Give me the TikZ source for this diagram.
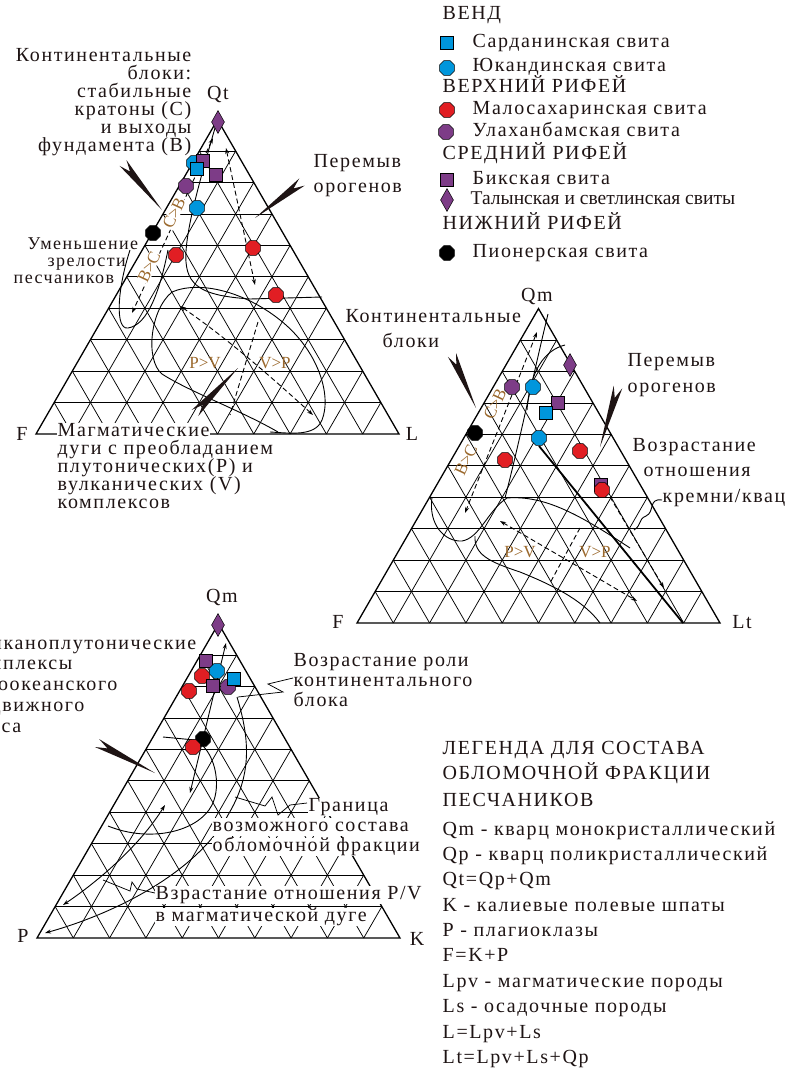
\documentclass[tikz,border=0pt]{standalone}
\usepackage{fontspec}
\setmainfont{Liberation Serif}
\newfontfamily\wide{Liberation Serif}[LetterSpace=8]
\usetikzlibrary{arrows.meta,calc,shapes.geometric}

\definecolor{mblue}{RGB}{0,150,220}
\definecolor{mpurple}{RGB}{125,60,135}
\definecolor{mred}{RGB}{225,30,35}
\definecolor{ink}{RGB}{30,20,20}
\definecolor{ochre}{RGB}{155,105,45}

% ternary grid, 10 divisions; #1,#2 = left corner
\newcommand{\ternary}[2]{%
  \begin{scope}[shift={(#1,#2)}]
    \foreach \i in {1,...,9}{
      \draw[gridline] (\i*18.15,-\i*31.44) -- (363-\i*18.15,-\i*31.44);
      \draw[gridline] (\i*36.3,0) -- (181.5+\i*18.15,-314.4+\i*31.44);
      \draw[gridline] (\i*36.3,0) -- (\i*18.15,-\i*31.44);
    }
    \draw[triline] (0,0) -- (363,0) -- (181.5,-314.4) -- cycle;
  \end{scope}}

% black wedge pointer from tail #1 to tip #2
\newcommand{\pointer}[2]{%
  \fill[ink] (#2) -- ($(#1)!4.5pt!90:(#2)$) -- ($(#1)!0.18!(#2)$) -- ($(#1)!4.5pt!-90:(#2)$) -- cycle;}

\begin{document}
\begin{tikzpicture}[x=1pt,y=-1pt,
  gridline/.style={line width=0.75pt},
  triline/.style={line width=1.3pt},
  bound/.style={line width=0.9pt},
  flow/.style={line width=0.9pt,dash pattern=on 5pt off 3pt},
  onearr/.style={-{Stealth[length=6pt,width=4pt]}},
  twoarr/.style={{Stealth[length=6pt,width=4pt]}-{Stealth[length=6pt,width=4pt]}},
  lab/.style={font=\wide\fontsize{20}{20}\selectfont,text=ink,inner sep=0.5pt,text height=13pt,text depth=4pt},
  labw/.style={lab,fill=white},
  slab/.style={lab,font=\wide\fontsize{18}{18}\selectfont},
  rel/.style={font=\fontsize{17}{17}\selectfont,text=ochre,inner sep=0.5pt},
  mk/.style={draw=black,line width=0.5pt,inner sep=0pt},
  rdot/.style={mk,regular polygon,regular polygon sides=8,minimum size=16pt,fill=mred},
  bdot/.style={rdot,fill=mblue},
  pdot/.style={rdot,fill=mpurple},
  kdot/.style={rdot,fill=black},
  bsq/.style={mk,rectangle,minimum size=13pt,fill=mblue},
  psq/.style={bsq,fill=mpurple},
  pdia/.style={mk,diamond,minimum width=13pt,minimum height=23pt,fill=mpurple}
]
\useasboundingbox (0,0) rectangle (788,1074);

%%%%%%%%%%%%%%%% Triangle Qt-F-L
\ternary{36}{434}
% dashed band C>B / B>C
\draw[flow,twoarr] (213,138) -- (132,313);
% solid craton line
\draw[bound] (215,128) .. controls (200,180) and (184,235) .. (186,262) .. controls (188,290) and (210,296) .. (250,299) -- (322,297);
% dashed recycling line
\draw[flow,twoarr] (226,148) -- (255,285);
% loop of immature sands
\draw[bound] (130,250) .. controls (117,290) and (115,330) .. (128,328) .. controls (148,325) and (160,290) .. (168,250);
% arc field
\draw[bound] (172,292) .. controls (200,280) and (245,292) .. (280,320) .. controls (318,350) and (332,395) .. (322,420) .. controls (315,437) and (290,433) .. (270,432);
\draw[bound] (172,292) .. controls (150,310) and (145,360) .. (162,374) .. controls (190,392) and (240,410) .. (278,432);
\draw[flow,twoarr] (180,306) .. controls (230,340) and (280,385) .. (313,415);
\draw[flow] (258,322) -- (230,415);
% ratio labels
\node[rel,fill=white,rotate=65] (cb1) at (174,213) {C>B};
\node[rel,fill=white,rotate=65] (bc1) at (149,267) {B>C};
\node[rel] (pv1) at (205,363) {P>V};
\node[rel] (vp1) at (275,363) {V>P};
% markers
\node[bdot] (t1a) at (194,163) {};
\node[psq] (t1b) at (203,161) {};
\node[bsq] (t1c) at (197,169) {};
\node[psq] (t1d) at (216,175) {};
\node[pdot] (t1e) at (186,186) {};
\node[bdot] (t1f) at (197,208) {};
\node[kdot] (t1g) at (153,233) {};
\node[rdot] (t1h) at (176,255) {};
\node[rdot] (t1i) at (253,248) {};
\node[rdot] (t1j) at (276,295) {};
\node[pdia] (t1k) at (218,122) {};
% pointers
\coordinate (p1a) at (123,163); \coordinate (p1b) at (162,210);
\coordinate (p2a) at (302,182); \coordinate (p2b) at (255,218);
\coordinate (p3a) at (195,413); \coordinate (p3b) at (238,368);
\pointer{p1a}{p1b}
\pointer{p2a}{p2b}
\pointer{p3a}{p3b}
% Text Node
\node[lab] (qt1) at (218,95) {Qt};
\node[lab] (f1) at (22,436) {F};
\node[lab] (l1) at (412,436) {L};
\node[lab,anchor=east] (cb1a) at (192,57) {Континентальные};
\node[lab,anchor=east] (cb1b) at (192,75) {блоки:};
\node[lab,anchor=east] (cb1c) at (192,93) {стабильные};
\node[lab,anchor=east] (cb1d) at (192,111) {кратоны (C)};
\node[lab,anchor=east] (cb1e) at (192,129) {и выходы};
\node[lab,anchor=east] (cb1f) at (192,147) {фундамента (B)};
\node[lab,anchor=west] (ro1a) at (313,163) {Перемыв};
\node[lab,anchor=west] (ro1b) at (313,188) {орогенов};
\node[slab,anchor=west] (im1a) at (27,245) {Уменьшение};
\node[slab,anchor=west] (im1b) at (47,262) {зрелости};
\node[slab,anchor=west] (im1c) at (13,279) {песчаников};
\node[labw,anchor=west] (ma1a) at (57,432) {Магматические};
\node[labw,anchor=west] (ma1b) at (57,450) {дуги с преобладанием};
\node[labw,anchor=west] (ma1c) at (57,468) {плутонических(P) и};
\node[labw,anchor=west] (ma1d) at (57,486) {вулканических (V)};
\node[labw,anchor=west] (ma1e) at (57,504) {комплексов};

%%%%%%%%%%%%%%%% Triangle Qm-F-Lt
\ternary{357}{623}
\draw[flow,twoarr] (537,332) -- (465,513);
\draw[bound] (548,314) .. controls (532,380) and (520,440) .. (505,498);
\draw[bound] (527,410) .. controls (530,370) and (545,350) .. (565,345);
\draw[bound] (432,497) .. controls (428,525) and (445,542) .. (462,541) .. controls (480,538) and (488,510) .. (507,498) .. controls (545,495) and (580,515) .. (630,548);
\draw[bound] (475,536) .. controls (474,555) and (490,562) .. (520,572) .. controls (560,588) and (585,603) .. (600,623);
\draw[line width=1.8pt] (539,446) -- (683,623);
\draw[flow,onearr] (610,497) -- (664,588);
\draw[flow,twoarr] (500,521) -- (637,601);
\draw[flow] (580,528) -- (550,583);
\draw[bound] (662,500) .. controls (648,498) and (655,512) .. (646,516) .. controls (638,519) and (642,525) .. (634,530);
\node[rel,rotate=65] (cb2) at (495,404) {C>B};
\node[rel,rotate=65] (bc2) at (466,460) {B>C};
\node[rel] (pv2) at (520,552) {P>V};
\node[rel] (vp2) at (595,552) {V>P};
% markers
\node[pdia] (t2a) at (570,365) {};
\node[pdot] (t2b) at (512,387) {};
\node[bdot] (t2c) at (533,387) {};
\node[psq] (t2d) at (558,403) {};
\node[bsq] (t2e) at (546,413) {};
\node[kdot] (t2f) at (475,433) {};
\node[bdot] (t2g) at (539,438) {};
\node[rdot] (t2h) at (580,451) {};
\node[rdot] (t2i) at (505,460) {};
\node[psq] (t2j) at (601,485) {};
\node[rdot] (t2k) at (602,490) {};
% pointers
\coordinate (p4a) at (452,355); \coordinate (p4b) at (476,408);
\coordinate (p5a) at (618,387); \coordinate (p5b) at (600,447);
\pointer{p4a}{p4b}
\pointer{p5a}{p5b}
% Text Node
\node[lab] (qm2) at (537,297) {Qm};
\node[lab] (f2) at (338,624) {F};
\node[lab] (lt2) at (742,624) {Lt};
\node[lab,anchor=west] (cb2a) at (345,318) {Континентальные};
\node[lab,anchor=west] (cb2b) at (382,343) {блоки};
\node[lab,anchor=west] (ro2a) at (627,362) {Перемыв};
\node[lab,anchor=west] (ro2b) at (627,388) {орогенов};
\node[lab,anchor=west] (ch2a) at (632,447) {Возрастание};
\node[lab,anchor=west] (ch2b) at (643,472) {отношения};
\node[lab,anchor=west] (ch2c) at (662,498) {кремни/квац};

%%%%%%%%%%%%%%%% Triangle Qm-P-K
\ternary{37}{938}
\draw[bound,twoarr] (190,793) -- (226,643);
\draw[bound] (163,737) -- (195,740) .. controls (215,750) and (222,785) .. (212,805) .. controls (198,832) and (150,843) .. (108,826);
\draw[bound,twoarr] (63,905) .. controls (100,880) and (140,845) .. (165,805);
\draw[bound,onearr] (237,697) .. controls (250,740) and (252,775) .. (228,815) .. controls (195,875) and (110,915) .. (45,933);
% leaders
\draw[gridline] (293,678) -- (268,684) -- (283,692) -- (238,697);
\draw[gridline] (307,803) -- (290,805) -- (278,815) -- (272,797) -- (265,806) -- (235,797);
\draw[gridline] (155,893) -- (137,889) -- (132,882) -- (130,891) -- (103,880);
% markers
\node[pdia] (t3a) at (218,625) {};
\node[psq] (t3b) at (206,661) {};
\node[rdot] (t3c) at (202,676) {};
\node[bdot] (t3d) at (217,671) {};
\node[pdot] (t3e) at (228,687) {};
\node[psq] (t3f) at (213,686) {};
\node[bsq] (t3g) at (234,679) {};
\node[rdot] (t3h) at (189,691) {};
\node[kdot] (t3i) at (203,739) {};
\node[rdot] (t3j) at (193,747) {};
% pointer
\coordinate (p6a) at (97,743); \coordinate (p6b) at (155,773);
\pointer{p6a}{p6b}
% Text Node
\node[lab] (qm3) at (222,598) {Qm};
\node[lab] (p3) at (23,938) {P};
\node[lab] (k3) at (417,941) {K};
\node[lab,anchor=east] (vk3a) at (197,645) {Вулканоплутонические};
\node[lab,anchor=east] (vk3b) at (73,665) {комплексы};
\node[lab,anchor=east] (vk3c) at (118,686) {палеоокеанского};
\node[lab,anchor=east] (vk3d) at (85,707) {подвижного};
\node[lab,anchor=east] (vk3e) at (22,728) {пояса};
\node[lab,anchor=west] (cr3a) at (293,662) {Возрастание роли};
\node[lab,anchor=west] (cr3b) at (293,682) {континентального};
\node[lab,anchor=west] (cr3c) at (293,702) {блока};
\node[labw,anchor=west] (gr3a) at (308,807) {Граница};
\node[labw,anchor=west] (gr3b) at (212,827) {возможного состава};
\node[labw,anchor=west] (gr3c) at (212,847) {обломочной фракции};
\node[labw,anchor=west] (pv3a) at (155,895) {Взрастание отношения P/V};
\node[labw,anchor=west] (pv3b) at (155,917) {в магматической дуге};

%%%%%%%%%%%%%%%% Legend of formations
\node[lab,anchor=west] (hv) at (442,15) {ВЕНД};
\node[bsq] (mv1) at (447,43) {};
\node[lab,anchor=west] (tv1) at (472,43) {Сарданинская свита};
\node[bdot] (mv2) at (447,68) {};
\node[lab,anchor=west] (tv2) at (472,67) {Юкандинская свита};
\node[lab,anchor=west] (hu) at (442,88) {ВЕРХНИЙ РИФЕЙ};
\node[rdot] (mu1) at (447,110) {};
\node[lab,anchor=west] (tu1) at (472,110) {Малосахаринская свита};
\node[pdot] (mu2) at (446,132) {};
\node[lab,anchor=west] (tu2) at (472,132) {Улаханбамская свита};
\node[lab,anchor=west] (hm) at (442,155) {СРЕДНИЙ РИФЕЙ};
\node[psq] (mm1) at (447,180) {};
\node[lab,anchor=west] (tm1) at (472,180) {Бикская свита};
\node[pdia] (mm2) at (447,200) {};
\node[lab,anchor=west,font=\fontsize{19.5}{19.5}\selectfont] (tm2) at (470,200) {Талынская и светлинская свиты};
\node[lab,anchor=west] (hl) at (442,225) {НИЖНИЙ РИФЕЙ};
\node[kdot] (ml1) at (447,253) {};
\node[lab,anchor=west] (tl1) at (472,253) {Пионерская свита};

%%%%%%%%%%%%%%%% Legend of components
\node[lab,anchor=west] (g1) at (442,750) {ЛЕГЕНДА ДЛЯ СОСТАВА};
\node[lab,anchor=west] (g2) at (442,775) {ОБЛОМОЧНОЙ ФРАКЦИИ};
\node[lab,anchor=west] (g3) at (442,802) {ПЕСЧАНИКОВ};
\node[lab,anchor=west] (g4) at (442,831) {Qm - кварц монокристаллический};
\node[lab,anchor=west] (g5) at (442,856) {Qp - кварц поликристаллический};
\node[lab,anchor=west] (g6) at (442,881) {Qt=Qp+Qm};
\node[lab,anchor=west] (g7) at (442,907) {K - калиевые полевые шпаты};
\node[lab,anchor=west] (g8) at (442,932) {P - плагиоклазы};
\node[lab,anchor=west] (g9) at (442,957) {F=K+P};
\node[lab,anchor=west] (g10) at (442,983) {Lpv - магматические породы};
\node[lab,anchor=west] (g11) at (442,1008) {Ls - осадочные породы};
\node[lab,anchor=west] (g12) at (442,1034) {L=Lpv+Ls};
\node[lab,anchor=west] (g13) at (442,1059) {Lt=Lpv+Ls+Qp};
\end{tikzpicture}
\end{document}
